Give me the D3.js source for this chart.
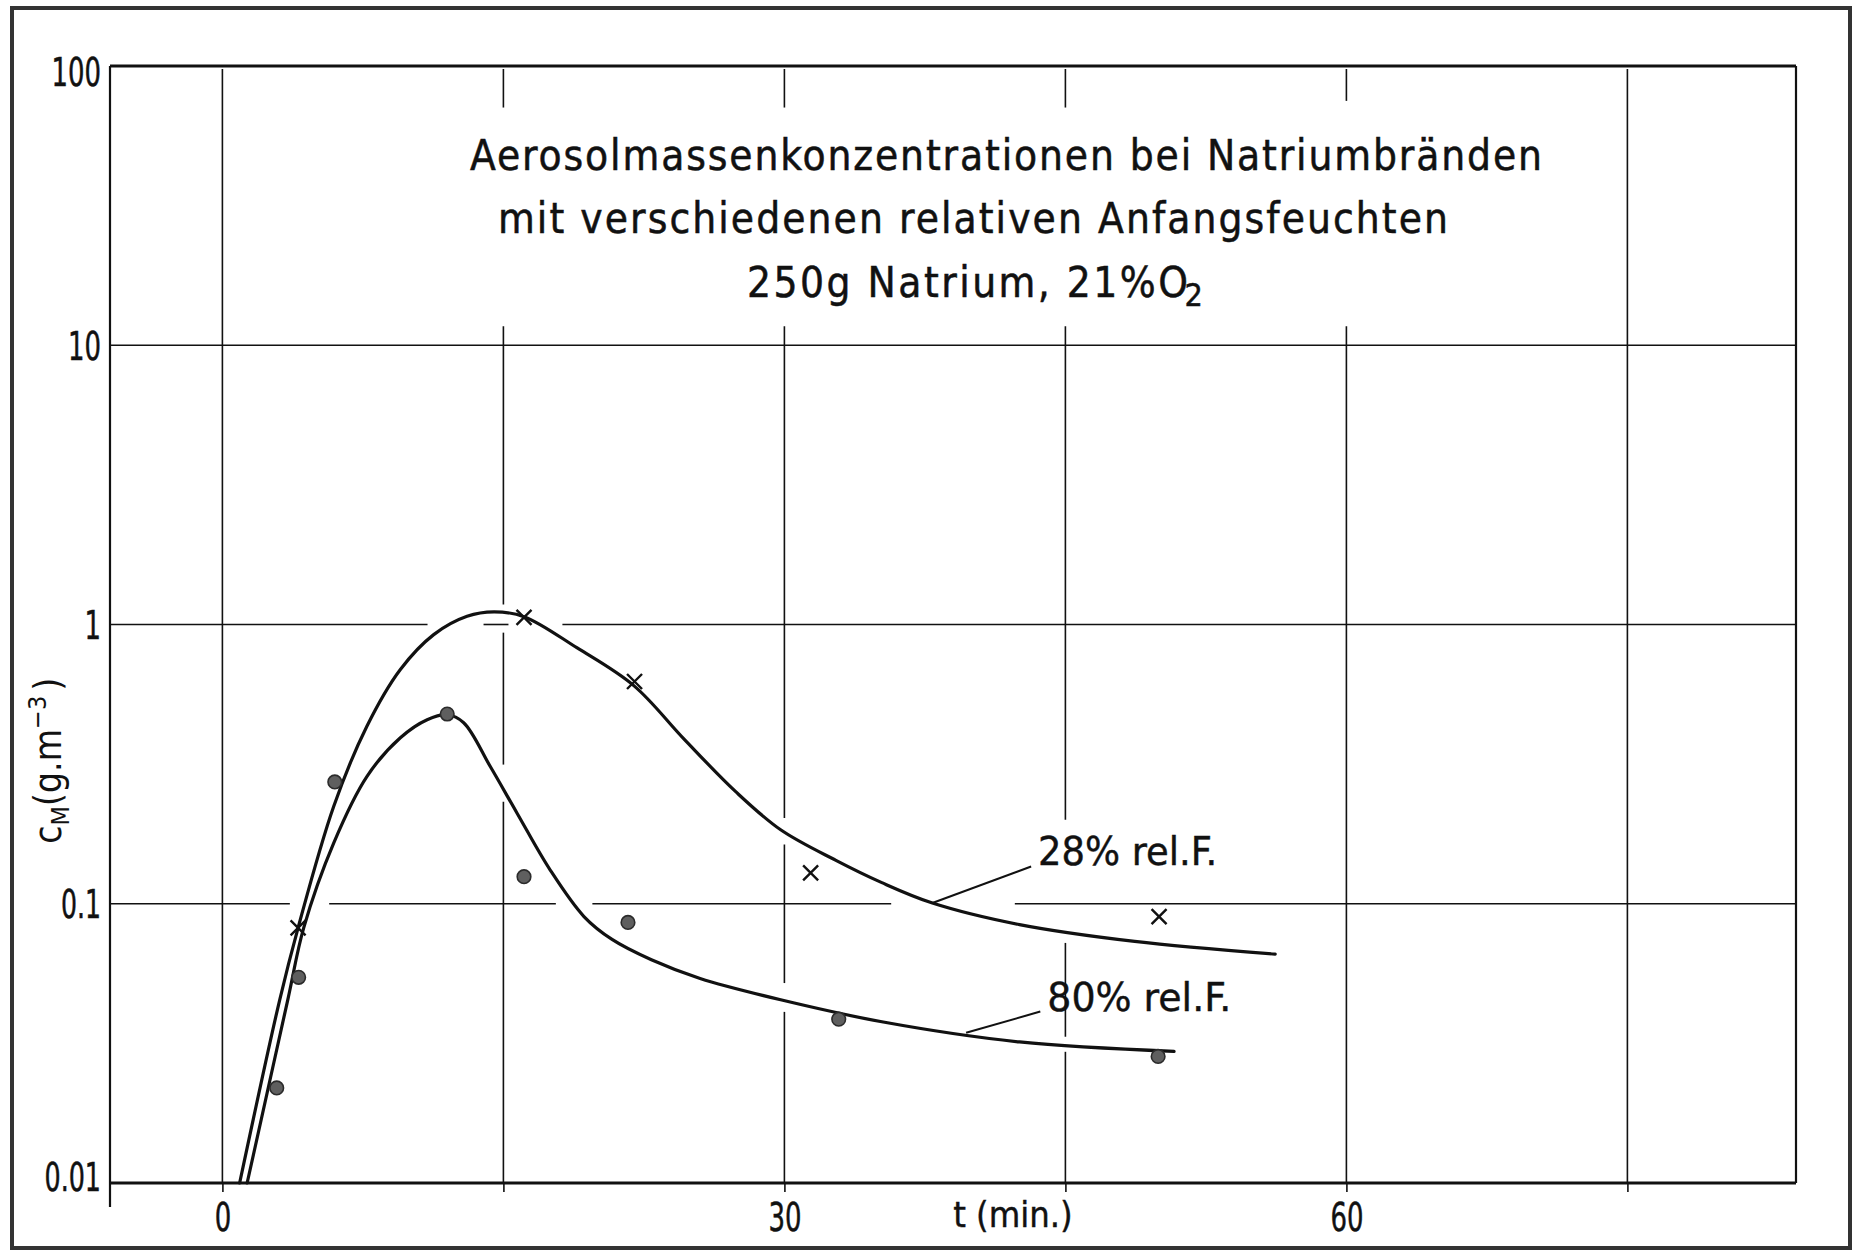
<!DOCTYPE html>
<html>
<head>
<meta charset="utf-8">
<script src="https://cdn.jsdelivr.net/npm/d3@7/dist/d3.min.js"></script>
<style>
  html, body { margin: 0; padding: 0; background: #fff; }
  svg { display: block; }
</style>
</head>
<body>
<svg id="chart" width="1858" height="1252"></svg>
<script>
// ---- axes ----
const xGridTicks = [0, 15, 30, 45, 60, 75];
const xTickLabels = [0, 30, 60];
const yTicks = [0.01, 0.1, 1, 10, 100];
const yTickLabels = ["0.01", "0.1", "1", "10", "100"];

// ---- measured aerosol mass concentrations (g/m^3) over time (min) ----
// 28 % initial relative humidity (crosses)
const crossT = [4.04, 16.1, 22.0, 31.4, 50.0];
const crossC = [0.082, 1.06, 0.625, 0.129, 0.090];
// 80 % initial relative humidity (dots)
const dotT = [2.9, 4.07, 6.0, 12.0, 16.1, 21.65, 32.9, 49.95];
const dotC = [0.0219, 0.0545, 0.273, 0.478, 0.125, 0.0857, 0.0386, 0.0284];

// ---- hand-fitted curves ----
const fit28T = [0.92, 3.06, 4.04, 5.94, 7.72, 9.5, 11.28, 13.06, 14.5, 16.1, 18.94, 21.96, 24.67, 27.4, 29.8, 32.75, 35.2, 37.9, 42.55, 48.7, 56.2];
const fit28C = [0.010, 0.0453, 0.082, 0.223, 0.433, 0.69, 0.92, 1.07, 1.11, 1.067, 0.824, 0.604, 0.387, 0.252, 0.184, 0.143, 0.119, 0.1006, 0.0842, 0.0733, 0.066];
const fit80T = [1.32, 3.49, 4.34, 5.94, 7.72, 9.5, 10.93, 12.0, 12.88, 14.3, 15.73, 17.5, 19.3, 20.8, 22.9, 25.5, 29.8, 35.2, 42.55, 50.8];
const fit80C = [0.010, 0.0453, 0.082, 0.165, 0.286, 0.393, 0.456, 0.475, 0.445, 0.310, 0.211, 0.132, 0.090, 0.0745, 0.063, 0.054, 0.0453, 0.0378, 0.032, 0.0296];

// ---- curve labels: text, leader from [t, c] on curve to [t, c] at the text ----
const curveLabels = ["28% rel.F.", "80% rel.F."];
const leaderFromT = [37.9, 39.7];
const leaderFromC = [0.1006, 0.0345];
const leaderToT = [43.17, 43.66];
const leaderToC = [0.136, 0.0411];

// ---- title ----
const titleLines = ["Aerosolmassenkonzentrationen bei Natriumbränden",
                    "mit verschiedenen relativen Anfangsfeuchten",
                    "250g Natrium, 21%O"];
const titleSub = ["", "", "2"];

// ---- interruptions in the drawn grid lines (data units) ----
const hGridValues = [10, 1, 0.1];
const hGridBreaks = [
  [],
  [[10.95, 13.94], [15.27, 18.15]],
  [[3.6, 5.7], [17.8, 19.75], [35.7, 42.3]]
];
const vGridBreaks = [
  [],
  [[11.7, 71], [0.935, 1.18], [0.232, 0.315]],
  [[11.7, 71], [0.163, 0.203], [0.041, 0.052]],
  [[11.7, 71], [0.0724, 0.2], [0.0295, 0.0334]],
  [[11.7, 75]],
  []
];

const svg = d3.select("#chart");
const W = 1858, H = 1252;
const m = { left: 110, right: 1796, top: 66, bottom: 1183 };

const x = d3.scaleLinear().domain([-6, 84]).range([m.left, m.right]);
const y = d3.scaleLog().domain([0.01, 100]).range([m.bottom, m.top]);

const ink = "#111";
const condensed = "'DejaVu Sans Condensed', 'DejaVu Sans', sans-serif";

svg.append("rect").attr("width", W).attr("height", H).attr("fill", "#fff");

// outer frame
svg.append("rect")
  .attr("x", 12).attr("y", 8).attr("width", 1838).attr("height", 1240)
  .attr("fill", "none").attr("stroke", "#333").attr("stroke-width", 4);

// split [lo, hi] into the pieces left over after removing the breaks
function pieces(lo, hi, breaks) {
  const b = breaks.map(d => [Math.min(d[0], d[1]), Math.max(d[0], d[1])]).sort((a, c) => a[0] - c[0]);
  const out = [];
  let cur = lo;
  b.forEach(([a, c]) => { if (a > cur) out.push([cur, a]); cur = Math.max(cur, c); });
  if (cur < hi) out.push([cur, hi]);
  return out;
}

const grid = svg.append("g").attr("stroke", ink).attr("stroke-width", 1.6).attr("fill", "none");

hGridValues.forEach((v, i) => {
  pieces(x.domain()[0], x.domain()[1], hGridBreaks[i]).forEach(([a, b]) => {
    grid.append("line")
      .attr("x1", x(a)).attr("x2", x(b))
      .attr("y1", y(v)).attr("y2", y(v));
  });
});

xGridTicks.forEach((t, i) => {
  pieces(y.domain()[0], y.domain()[1], vGridBreaks[i]).forEach(([a, b]) => {
    grid.append("line")
      .attr("x1", x(t)).attr("x2", x(t))
      .attr("y1", y(a)).attr("y2", y(b) + (b >= 100 ? 3 : 0));
  });
});

// narrow digits, like the stencil lettering
const digitW = 16.5;

// bottom axis with short ticks below the line and labels at 0, 30, 60
const xAxis = d3.axisBottom(x)
  .tickValues(xGridTicks)
  .tickSizeInner(9).tickSizeOuter(0).tickPadding(11)
  .tickFormat(d => xTickLabels.includes(d) ? String(d) : "");
const gx = svg.append("g").attr("transform", `translate(0,${m.bottom})`).call(xAxis);
gx.select(".domain").remove();
gx.selectAll(".tick line").attr("stroke", ink).attr("stroke-width", 1.6);
gx.selectAll(".tick text")
  .attr("fill", ink).attr("font-family", condensed).attr("font-size", 39)
  .attr("stroke", ink).attr("stroke-width", 0.5)
  .each(function () {
    const s = this.textContent;
    if (s) d3.select(this).attr("textLength", s.length * digitW).attr("lengthAdjust", "spacingAndGlyphs");
  });

// left axis labels
const yAxis = d3.axisLeft(y)
  .tickValues(yTicks).tickSize(0).tickPadding(9)
  .tickFormat((d, i) => yTickLabels[i]);
const gy = svg.append("g").attr("transform", `translate(${m.left},0)`).call(yAxis);
gy.select(".domain").remove();
gy.selectAll(".tick text")
  .attr("fill", ink).attr("font-family", condensed).attr("font-size", 39)
  .attr("stroke", ink).attr("stroke-width", 0.5)
  .attr("dy", d => d === 100 ? "0.5em" : (d === 0.01 ? "0.18em" : "0.36em"))
  .each(function () {
    const s = this.textContent;
    const w = [...s].reduce((acc, ch) => acc + (ch === "." ? 7 : digitW), 0);
    d3.select(this).attr("textLength", w).attr("lengthAdjust", "spacingAndGlyphs");
  });

// plot border
const frame = svg.append("g").attr("stroke", ink).attr("fill", "none");
frame.append("line").attr("x1", m.left).attr("x2", m.right).attr("y1", m.top).attr("y2", m.top).attr("stroke-width", 3);
frame.append("line").attr("x1", m.left).attr("x2", m.right).attr("y1", m.bottom).attr("y2", m.bottom).attr("stroke-width", 3);
frame.append("line").attr("x1", m.left).attr("x2", m.left).attr("y1", m.top).attr("y2", m.bottom + 24).attr("stroke-width", 2.2);
frame.append("line").attr("x1", m.right).attr("x2", m.right).attr("y1", m.top).attr("y2", m.bottom).attr("stroke-width", 2.2);

// axis titles
svg.append("text")
  .attr("x", x(42.2)).attr("y", m.bottom + 44)
  .attr("text-anchor", "middle")
  .attr("font-family", condensed).attr("font-size", 36).attr("fill", ink)
  .attr("stroke", ink).attr("stroke-width", 0.4)
  .text("t (min.)");

const yLab = svg.append("text")
  .attr("transform", `translate(61,${y(0.164)}) rotate(-90)`)
  .attr("font-family", condensed).attr("font-size", 37).attr("fill", ink);
yLab.append("tspan").text("c");
yLab.append("tspan").attr("font-size", 25).attr("dy", 8).text("M");
yLab.append("tspan").attr("dy", -8).text("(g.m");
yLab.append("tspan").attr("font-size", 25).attr("dy", -15).text("−3");
yLab.append("tspan").attr("dy", 15).attr("dx", 5).text(")");

// title
const titleX = [470, 498, 747];
const titleY = [170, 233, 297];
const titleLen = [1072, 950, 441];
titleLines.forEach((s, i) => {
  const t = svg.append("text")
    .attr("x", titleX[i]).attr("y", titleY[i])
    .attr("font-family", condensed).attr("font-size", 42).attr("fill", ink)
    .attr("stroke", ink).attr("stroke-width", 0.5);
  t.append("tspan").attr("textLength", titleLen[i]).attr("lengthAdjust", "spacing").text(s);
  if (titleSub[i]) t.append("tspan").attr("dx", -6).attr("dy", 9).attr("font-size", 32).text(titleSub[i]);
});

// fitted curves
const line = d3.line()
  .x(d => x(d[0])).y(d => y(d[1]))
  .curve(d3.curveCatmullRom.alpha(0.5));
[[fit28T, fit28C], [fit80T, fit80C]].forEach(([ts, cs]) => {
  svg.append("path")
    .datum(ts.map((t, i) => [t, cs[i]]))
    .attr("d", line)
    .attr("fill", "none").attr("stroke", ink).attr("stroke-width", 3.2)
    .attr("stroke-linejoin", "round").attr("stroke-linecap", "round");
});

// leaders and curve labels
curveLabels.forEach((s, i) => {
  svg.append("line")
    .attr("x1", x(leaderFromT[i])).attr("y1", y(leaderFromC[i]))
    .attr("x2", x(leaderToT[i])).attr("y2", y(leaderToC[i]))
    .attr("stroke", ink).attr("stroke-width", 2);
  svg.append("text")
    .attr("x", x(leaderToT[i]) + 7).attr("y", y(leaderToC[i]) - 1)
    .attr("font-family", condensed).attr("font-size", 39).attr("fill", ink)
    .attr("stroke", ink).attr("stroke-width", 0.4)
    .attr("textLength", i === 0 ? 179 : 184).attr("lengthAdjust", "spacingAndGlyphs")
    .text(s);
});

// crosses (28 %)
const cs = 7.5;
svg.append("g").selectAll("path")
  .data(crossT.map((t, i) => [t, crossC[i]]))
  .join("path")
  .attr("d", d => {
    const px = x(d[0]), py = y(d[1]);
    return `M${px - cs},${py - cs}L${px + cs},${py + cs}M${px - cs},${py + cs}L${px + cs},${py - cs}`;
  })
  .attr("stroke", ink).attr("stroke-width", 2.4).attr("fill", "none");

// dots (80 %)
svg.append("g").selectAll("circle")
  .data(dotT.map((t, i) => [t, dotC[i]]))
  .join("circle")
  .attr("cx", d => x(d[0])).attr("cy", d => y(d[1]))
  .attr("r", 6.8)
  .attr("fill", "#5f5f5f").attr("stroke", "#2b2b2b").attr("stroke-width", 1.6);
</script>
</body>
</html>
